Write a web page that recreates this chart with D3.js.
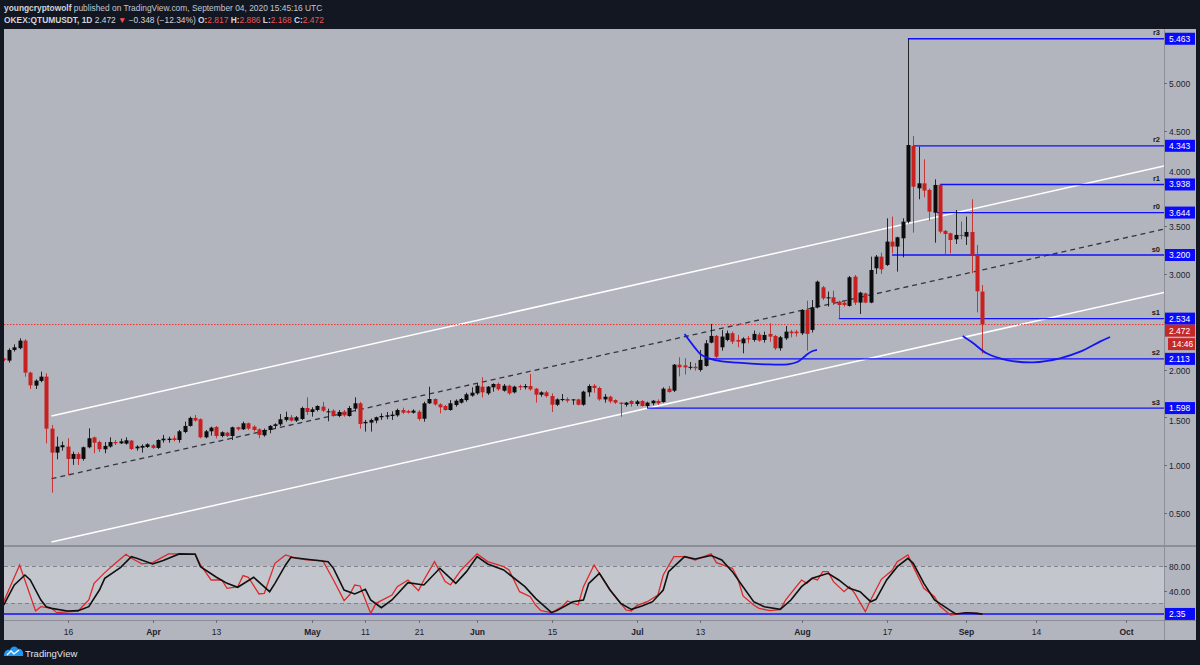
<!DOCTYPE html>
<html><head><meta charset="utf-8">
<script src="https://cdn.jsdelivr.net/npm/d3@7"></script>
<style>html,body{margin:0;padding:0;background:#131722;} svg{display:block;font-family:"Liberation Sans",Arial,sans-serif;}</style>
</head><body><svg id="c" width="1200" height="665"></svg>
<script>
// ---------- DATA ----------
const firstCandleDate = "2020-03-04";
// [open, high, low, close] daily QTUMUSDT
const candles = [
[2.115,2.120,2.090,2.105],[2.095,2.224,2.074,2.206],[2.206,2.265,2.189,2.234],[2.225,2.328,2.213,2.304],[2.304,2.318,1.927,1.969],
[1.969,1.979,1.798,1.836],[1.833,1.899,1.798,1.885],[1.882,1.979,1.868,1.927],[1.927,1.962,1.229,1.383],[1.383,1.421,0.713,1.132],
[1.132,1.299,1.062,1.195],[1.188,1.247,1.153,1.209],[1.195,1.282,0.895,1.066],[1.066,1.142,1.003,1.118],[1.118,1.135,1.003,1.066],
[1.066,1.195,1.048,1.188],[1.188,1.386,1.177,1.282],[1.292,1.299,1.125,1.236],[1.243,1.257,1.139,1.167],[1.167,1.243,1.125,1.202],
[1.195,1.292,1.184,1.243],[1.243,1.264,1.212,1.229],[1.229,1.278,1.222,1.250],[1.226,1.292,1.216,1.261],[1.257,1.264,1.160,1.170],
[1.177,1.209,1.153,1.195],[1.184,1.219,1.132,1.202],[1.191,1.229,1.181,1.219],[1.209,1.222,1.170,1.181],[1.181,1.271,1.170,1.264],
[1.261,1.317,1.236,1.278],[1.264,1.299,1.236,1.278],[1.282,1.310,1.250,1.264],[1.264,1.369,1.236,1.355],[1.348,1.456,1.334,1.411],
[1.411,1.509,1.404,1.495],[1.495,1.526,1.456,1.467],[1.481,1.491,1.282,1.292],[1.292,1.369,1.282,1.355],[1.355,1.404,1.310,1.393],
[1.400,1.411,1.282,1.306],[1.306,1.355,1.292,1.345],[1.341,1.350,1.296,1.306],[1.306,1.404,1.264,1.397],[1.397,1.404,1.362,1.376],
[1.376,1.456,1.369,1.439],[1.439,1.446,1.369,1.383],[1.404,1.418,1.352,1.369],[1.376,1.386,1.282,1.317],[1.313,1.383,1.299,1.369],
[1.369,1.421,1.334,1.411],[1.411,1.439,1.386,1.428],[1.428,1.536,1.411,1.481],[1.474,1.561,1.456,1.505],[1.502,1.526,1.456,1.467],
[1.467,1.515,1.453,1.502],[1.484,1.613,1.474,1.599],[1.599,1.711,1.526,1.557],[1.557,1.606,1.508,1.585],[1.578,1.627,1.564,1.620],
[1.613,1.662,1.557,1.571],[1.557,1.592,1.460,1.564],[1.571,1.585,1.508,1.515],[1.515,1.578,1.502,1.557],[1.561,1.578,1.508,1.522],
[1.515,1.620,1.508,1.599],[1.592,1.711,1.561,1.648],[1.648,1.662,1.383,1.432],[1.439,1.474,1.352,1.453],[1.446,1.488,1.352,1.474],
[1.467,1.509,1.439,1.502],[1.502,1.543,1.474,1.515],[1.508,1.557,1.481,1.522],[1.515,1.564,1.474,1.529],[1.522,1.592,1.508,1.578],
[1.578,1.602,1.536,1.550],[1.567,1.580,1.540,1.550],[1.550,1.585,1.540,1.571],[1.560,1.578,1.466,1.484],[1.487,1.665,1.456,1.648],
[1.648,1.822,1.641,1.693],[1.693,1.700,1.623,1.637],[1.637,1.648,1.543,1.606],[1.620,1.630,1.571,1.578],[1.578,1.682,1.571,1.648],
[1.630,1.689,1.613,1.675],[1.655,1.703,1.645,1.693],[1.682,1.759,1.665,1.742],[1.728,1.815,1.717,1.759],[1.752,1.857,1.738,1.832],
[1.822,1.920,1.710,1.763],[1.752,1.829,1.735,1.822],[1.815,1.857,1.770,1.850],[1.850,1.864,1.780,1.794],[1.780,1.850,1.770,1.832],
[1.832,1.843,1.738,1.752],[1.763,1.832,1.752,1.822],[1.829,1.843,1.787,1.815],[1.815,1.850,1.794,1.829],[1.829,1.955,1.780,1.794],
[1.801,1.808,1.655,1.738],[1.738,1.773,1.717,1.763],[1.763,1.777,1.710,1.724],[1.724,1.752,1.557,1.633],[1.633,1.700,1.620,1.689],
[1.682,1.745,1.668,1.693],[1.693,1.710,1.655,1.675],[1.682,1.693,1.633,1.689],[1.689,1.696,1.626,1.633],[1.633,1.780,1.623,1.770],
[1.763,1.846,1.717,1.829],[1.832,1.850,1.759,1.808],[1.808,1.822,1.675,1.689],[1.689,1.745,1.655,1.717],[1.717,1.728,1.648,1.668],
[1.682,1.689,1.641,1.655],[1.655,1.658,1.508,1.641],[1.633,1.662,1.613,1.655],[1.672,1.682,1.613,1.641],[1.641,1.682,1.620,1.668],
[1.672,1.682,1.613,1.620],[1.620,1.665,1.595,1.655],[1.648,1.682,1.627,1.675],[1.672,1.689,1.633,1.648],[1.661,1.815,1.655,1.801],
[1.801,1.829,1.759,1.766],[1.780,2.059,1.766,2.052],[2.052,2.130,1.930,2.024],[2.045,2.120,1.950,2.024],[2.020,2.080,2.000,2.030],
[2.030,2.070,1.990,2.015],[1.997,2.206,1.980,2.102],[2.039,2.311,2.032,2.276],[2.283,2.478,2.276,2.353],[2.353,2.363,2.119,2.136],
[2.234,2.416,2.199,2.346],[2.311,2.409,2.297,2.381],[2.381,2.398,2.269,2.293],[2.311,2.363,2.234,2.293],[2.276,2.339,2.171,2.325],
[2.328,2.353,2.276,2.318],[2.311,2.409,2.293,2.374],[2.367,2.388,2.293,2.304],[2.311,2.398,2.283,2.363],[2.374,2.485,2.293,2.346],
[2.353,2.363,2.206,2.224],[2.224,2.353,2.199,2.339],[2.328,2.457,2.311,2.398],[2.398,2.416,2.339,2.381],[2.398,2.416,2.346,2.381],
[2.381,2.632,2.363,2.625],[2.625,2.722,2.199,2.374],[2.416,2.729,2.388,2.653],[2.653,2.932,2.642,2.921],[2.862,2.876,2.729,2.747],
[2.747,2.817,2.660,2.757],[2.757,2.827,2.677,2.701],[2.712,2.722,2.534,2.677],[2.701,2.715,2.660,2.677],[2.667,2.981,2.660,2.967],
[2.974,2.991,2.677,2.702],[2.702,2.815,2.583,2.806],[2.799,2.806,2.695,2.702],[2.702,3.183,2.695,3.043],[3.061,3.200,3.002,3.183],
[3.183,3.225,3.002,3.050],[3.096,3.584,3.085,3.340],[3.340,3.602,3.218,3.288],[3.288,3.392,3.026,3.385],[3.375,3.584,3.176,3.549],
[3.549,5.463,3.530,4.351],[4.341,4.446,3.434,3.915],[3.898,4.334,3.783,3.950],[3.950,4.201,3.804,3.874],[3.881,3.895,3.560,3.654],
[3.643,3.992,3.329,3.933],[3.933,3.940,3.427,3.445],[3.452,3.462,3.200,3.420],[3.427,3.434,3.218,3.357],[3.364,3.671,3.315,3.410],
[3.410,3.549,3.364,3.399],[3.392,3.602,3.305,3.441],[3.441,3.783,3.010,3.200],[3.200,3.305,2.600,2.820],[2.817,2.886,2.168,2.472]
];
const lastPrice = 2.472;
const countdown = "14:46";

// Pivot levels (name, value, candle number where the line starts)
const pivotNames  = ["r3","r2","r1","r0","s0","s1","s2","s3"];
const pivotValues = [5.463,4.343,3.938,3.644,3.200,2.534,2.113,1.598];
const pivotStarts = [171,172,177,176.5,168,158,132.8,122];

// Channel (candle number, price) anchors
const channelUpper = [[10,1.515],[219,4.131]];
const channelMid   = [[10,0.859],[219,3.469]];
const channelLower = [[10,0.197],[219,2.807]];

// hand-drawn blue curves (candle number, price)
const curve1 = [[129.0,2.373],[130.9,2.234],[132.2,2.153],[134.7,2.101],[139.0,2.073],[144.1,2.056],[148.4,2.056],[150.3,2.083],[151.9,2.153],[152.8,2.188],[153.9,2.206]];
const curve2 = [[181.3,2.352],[183.3,2.276],[185.8,2.171],[189.6,2.101],[194.6,2.077],[199.6,2.119],[203.4,2.188],[207.1,2.293],[209.0,2.342]];

// Stoch RSI readings (candle number, value)
const stochK = [[1,22.2],[4,81.6],[7,7.1],[8,14.1],[10,11.4],[11,4.4],[15,7.1],[17,24.9],[18,51.9],[20,69.2],[22,84.3],[24,98.9],[25,92.4],[27,83.3],[29,85.4],[32,99.5],[34,99.5],[37,99.5],[38,81.6],[40,57.3],[42,57.3],[43,43.8],[45,46.5],[46,64.4],[47,61.7],[49,34.7],[50,35.7],[52,84.3],[54,97.8],[56,92.4],[58,89.7],[61,88.7],[63,57.3],[65,23.9],[66,33.0],[67,49.2],[68,47.6],[70,3.3],[71,19.5],[74,33.0],[75,46.5],[77,57.3],[79,40.1],[80,57.3],[82,87.0],[84,54.6],[85,49.2],[87,73.5],[90,99.5],[92,87.0],[95,78.9],[96,73.5],[98,38.4],[100,30.3],[101,16.8],[102,7.7],[104,4.4],[106,14.1],[107,23.3],[109,16.8],[110,46.5],[112,81.6],[113,68.1],[115,41.1],[116,30.3],[118,8.7],[119,7.1],[120,15.8],[122,22.2],[124,33.0],[125,65.4],[127,95.1],[129,95.1],[131,89.7],[134,99.5],[135,85.4],[138,76.2],[139,60.0],[140,31.4],[142,16.8],[143,11.4],[145,7.7],[146,8.7],[147,9.8],[148,24.9],[149,35.7],[151,57.3],[152,51.9],[153,60.0],[154,57.3],[155,70.8],[156,70.8],[157,54.6],[159,38.4],[160,46.5],[161,35.7],[163,6.0],[164,24.9],[166,58.4],[168,72.5],[169,87.0],[171,97.8],[172,78.9],[174,43.8],[176,30.3],[177,15.2],[179,0.6],[180,1.7],[182,4.4],[184,3.3],[185,1.2]];
const stochD = [[1,16.8],[3,49.2],[5,65.4],[6,57.3],[8,24.9],[9,14.1],[10,11.4],[13,7.1],[15,7.7],[17,14.1],[19,41.1],[20,60.0],[23,77.8],[25,95.1],[26,92.4],[29,83.3],[31,88.7],[34,99.5],[37,98.9],[38,78.9],[41,61.7],[43,51.9],[45,45.5],[48,61.7],[51,38.4],[52,51.9],[54,81.6],[55,94.1],[58,90.8],[62,87.0],[63,76.2],[65,41.1],[67,34.7],[69,42.2],[70,24.9],[72,12.5],[74,24.9],[77,53.0],[80,49.2],[83,76.2],[86,51.9],[88,70.8],[90,95.1],[92,83.3],[95,73.5],[99,46.5],[101,27.6],[104,4.4],[105,7.7],[108,22.2],[110,24.9],[111,51.9],[113,68.1],[115,41.1],[117,19.5],[119,9.8],[121,15.2],[123,22.2],[125,41.1],[126,70.8],[129,95.1],[131,91.4],[134,96.8],[136,89.7],[138,70.8],[140,46.5],[142,22.2],[144,14.1],[147,9.8],[149,24.9],[151,46.5],[153,60.0],[156,68.1],[158,57.3],[160,43.8],[162,38.4],[164,22.2],[165,26.0],[167,57.3],[169,78.9],[171,92.4],[172,84.3],[174,51.9],[176,24.9],[179,7.7],[180,2.3],[182,4.4],[184,3.3],[185,2.0]];
const stochLevel = 2.35;
const stochBand = [20, 80];
const stochTicks = [80, 40];

const priceTicks = [5.0,4.5,4.0,3.5,3.0,2.5,2.0,1.5,1.0,0.5];
const timeTickDates  = ["2020-03-16","2020-04-01","2020-04-13","2020-05-01","2020-05-11","2020-05-21","2020-06-01","2020-06-15","2020-07-01","2020-07-13","2020-08-01","2020-08-17","2020-09-01","2020-09-14","2020-10-01"];
const timeTickLabels = ["16","Apr","13","May","11","21","Jun","15","Jul","13","Aug","17","Sep","14","Oct"];

// ---------- DRAW ----------
const svg = d3.select("#c");
const L = 4, AX = 1164, R = 1196, TOP = 29, PB = 545, SB = 620, BOT = 640;
const day0 = Date.parse(firstCandleDate + "T00:00:00Z");
const dateOf = n => new Date(day0 + (n - 1) * 864e5);
const x = d3.scaleUtc().domain([new Date(Date.UTC(2020,2,16)), new Date(Date.UTC(2020,9,1))]).range([67.5, 1126]);
const y = d3.scaleLinear().domain([0.5, 5.0]).range([513, 83]);
const ys = d3.scaleLinear().domain([0, 100]).range([615.4, 553.6]);
const xn = n => x(dateOf(n));

const BG = "#b2b5be", DARK = "#131722", UP = "#0c0c0c", DOWN = "#c8201f", BLUE = "#1010ff";

// backgrounds
svg.append("rect").attr("x",0).attr("y",0).attr("width",1200).attr("height",665).attr("fill",DARK);
svg.append("rect").attr("x",L).attr("y",TOP).attr("width",R-L).attr("height",BOT-TOP).attr("fill",BG);

const defs = svg.append("defs");
defs.append("clipPath").attr("id","cp").append("rect").attr("x",L).attr("y",TOP).attr("width",AX-L).attr("height",PB-TOP);
defs.append("clipPath").attr("id","cs").append("rect").attr("x",L).attr("y",PB+1).attr("width",AX-L).attr("height",SB-PB-1);

// header
const FS = 8.4;
const h1 = svg.append("text").attr("x",4).attr("y",10.5).attr("font-size",FS).attr("fill","#d1d4dc");
h1.append("tspan").attr("font-weight","bold").text("youngcryptowolf");
h1.append("tspan").attr("fill","#c3c6ce").text(" published on TradingView.com, September 04, 2020 15:45:16 UTC");
const h2 = svg.append("text").attr("x",4).attr("y",22.5).attr("font-size",FS).attr("fill","#d1d4dc").attr("font-weight","bold");
const RED_T = "#ef5350";
h2.append("tspan").text("OKEX:QTUMUSDT, 1D  ");
h2.append("tspan").attr("font-weight","normal").text("2.472 ");
h2.append("tspan").attr("fill",RED_T).text("▼");
h2.append("tspan").attr("font-weight","normal").text(" −0.348 (−12.34%) ");
[["O:","2.817"],["H:","2.886"],["L:","2.168"],["C:","2.472"]].forEach(([a,b])=>{
  h2.append("tspan").text(" "+a);
  h2.append("tspan").attr("fill",RED_T).attr("font-weight","normal").text(b);
});

// --- price panel ---
const gp = svg.append("g").attr("clip-path","url(#cp)");
const lineXY = d3.line().x(d=>xn(d[0])).y(d=>y(d[1]));
function extendRight(pts){ // keep the ray direction, extend to the axis edge
  const [a,b] = pts; const slope = (b[1]-a[1])/(b[0]-a[0]);
  const nEnd = 1 + (x.invert(AX) - day0)/864e5;
  return [a,[nEnd, a[1]+slope*(nEnd-a[0])]];
}
gp.append("path").attr("d",lineXY(extendRight(channelUpper))).attr("stroke","#ffffff").attr("stroke-width",1.5).attr("fill","none");
gp.append("path").attr("d",lineXY(extendRight(channelLower))).attr("stroke","#ffffff").attr("stroke-width",1.5).attr("fill","none");
gp.append("path").attr("d",lineXY(extendRight(channelMid))).attr("stroke","#33363f").attr("stroke-width",1.3).attr("stroke-dasharray","5,4").attr("fill","none");

// last price dotted line
gp.append("line").attr("x1",L).attr("x2",AX).attr("y1",y(lastPrice)).attr("y2",y(lastPrice))
  .attr("stroke","#f03030").attr("stroke-width",1).attr("stroke-dasharray","1.5,1.5");

// pivot lines
pivotValues.forEach((v,k)=>{
  const yy = y(v);
  gp.append("line").attr("x1",xn(pivotStarts[k])).attr("x2",AX).attr("y1",yy).attr("y2",yy).attr("stroke",BLUE).attr("stroke-width",1.3);
  svg.append("text").attr("x",1160).attr("y",yy-3.5).attr("text-anchor","end").attr("font-size",7.5).attr("font-weight","bold").attr("fill","#1a1a1a").text(pivotNames[k]);
});

// candles
const cg = gp.append("g");
candles.forEach((c,k)=>{
  const n = k+1, cx = Math.round(xn(n));
  const [o,h,l,cl] = c, col = cl>=o ? UP : DOWN;
  cg.append("line").attr("x1",cx+0.5).attr("x2",cx+0.5).attr("y1",y(h)).attr("y2",y(l)).attr("stroke",col).attr("stroke-width",1).attr("opacity",0.85);
  const top = y(Math.max(o,cl)), bot = y(Math.min(o,cl));
  cg.append("rect").attr("x",cx-1.5).attr("y",top).attr("width",4).attr("height",Math.max(1,bot-top)).attr("fill",col);
});

// blue hand-drawn curves
const curveLine = d3.line().x(d=>xn(d[0])).y(d=>y(d[1])).curve(d3.curveCatmullRom);
[curve1,curve2].forEach(cv=>gp.append("path").attr("d",curveLine(cv)).attr("stroke","#1414f5").attr("stroke-width",1.8).attr("fill","none"));

// --- stoch panel ---
const gs = svg.append("g").attr("clip-path","url(#cs)");
gs.append("rect").attr("x",L).attr("y",ys(stochBand[1])).attr("width",AX-L).attr("height",ys(stochBand[0])-ys(stochBand[1])).attr("fill","#c3c6cc");
stochBand.forEach(v=>gs.append("line").attr("x1",L).attr("x2",AX).attr("y1",Math.round(ys(v))+0.5).attr("y2",Math.round(ys(v))+0.5).attr("stroke","#80838c").attr("stroke-dasharray","4,3"));
gs.append("line").attr("x1",L).attr("x2",AX).attr("y1",ys(stochLevel)).attr("y2",ys(stochLevel)).attr("stroke",BLUE).attr("stroke-width",1.4);
const sLine = d3.line().x(d=>xn(d[0])).y(d=>ys(d[1]));
gs.append("path").attr("d",sLine(stochK)).attr("stroke","#dc2a2a").attr("stroke-width",1.3).attr("fill","none");
gs.append("path").attr("d",sLine(stochD)).attr("stroke","#101010").attr("stroke-width",1.6).attr("fill","none");

// separators & axis line
svg.append("rect").attr("x",L).attr("y",PB).attr("width",R-L).attr("height",2).attr("fill","#8c8f98");
svg.append("line").attr("x1",L).attr("x2",R).attr("y1",SB+0.5).attr("y2",SB+0.5).attr("stroke","#8c8f98");
svg.append("line").attr("x1",AX+0.5).attr("x2",AX+0.5).attr("y1",TOP).attr("y2",BOT).attr("stroke","#8c8f98");

// label boxes positions (to keep tick labels clear of them)
const s1y = y(pivotValues[5]);
const lpY = Math.max(y(lastPrice), s1y+12);
const boxCenters = pivotValues.map(v=>y(v)).concat([lpY, lpY+13.5]);

// price axis ticks
const ga = svg.append("g").attr("font-size",8.5).attr("fill","#1e222d");
priceTicks.forEach(v=>{
  const yy = Math.round(y(v))+0.5;
  ga.append("line").attr("x1",AX).attr("x2",AX+3).attr("y1",yy).attr("y2",yy).attr("stroke","#6a6d76");
  let ty = yy;
  const near = boxCenters.filter(b=>Math.abs(b-yy)<12);
  if (near.length >= 2) return;           // fully covered by boxes (as in the reference)
  if (near.length === 1) ty = near[0] > yy ? near[0]-12.5 : near[0]+12.5;
  ga.append("text").attr("x",1169).attr("y",ty+3).text(d3.format(".3f")(v));
});
stochTicks.forEach(v=>{
  const yy = Math.round(ys(v))+0.5;
  ga.append("line").attr("x1",AX).attr("x2",AX+3).attr("y1",yy).attr("y2",yy).attr("stroke","#6a6d76");
  ga.append("text").attr("x",1169).attr("y",yy+3).text(d3.format(".2f")(v));
});

// label boxes
function box(yc, txt, fill, x0){
  x0 = x0 || 1165;
  svg.append("rect").attr("x",x0).attr("y",yc-6).attr("width",R-1-x0).attr("height",12).attr("fill",fill);
  svg.append("text").attr("x",x0+4).attr("y",yc+3).attr("font-size",8.5).attr("fill","#ffffff").text(txt);
}
pivotValues.forEach(v=>box(y(v), d3.format(".3f")(v), "#0a0aff"));
box(lpY, d3.format(".3f")(lastPrice), "#c62828");
box(lpY+13.5, countdown, "#c62828", 1168);
box(ys(stochLevel), d3.format(".2f")(stochLevel), "#0a0aff");

// time axis
const gt = svg.append("g").attr("font-size",8.5).attr("fill","#1e222d").attr("text-anchor","middle");
timeTickDates.forEach((d,k)=>{
  const xx = Math.round(x(new Date(d+"T00:00:00Z")))+0.5;
  gt.append("line").attr("x1",xx).attr("x2",xx).attr("y1",SB).attr("y2",SB+3).attr("stroke","#6a6d76");
  gt.append("text").attr("x",xx).attr("y",635).attr("font-weight", /^[A-Z]/.test(timeTickLabels[k]) ? "bold" : "normal").text(timeTickLabels[k]);
});

// footer logo
const lg = svg.append("g").attr("transform","translate(4,645)");
lg.append("path").attr("d","M0,11 C0,6 3,4 6,5 C7,1 12,0 14,4 C17,3 20,6 19,11 Z").attr("fill","#2196f3");
lg.append("path").attr("d","M3,10 L7,6 L10,9 L15,5").attr("stroke","#ffffff").attr("stroke-width",1.3).attr("fill","none");
svg.append("text").attr("x",25).attr("y",657).attr("font-size",9.5).attr("fill","#e0e3eb").text("TradingView");
</script></body></html>
